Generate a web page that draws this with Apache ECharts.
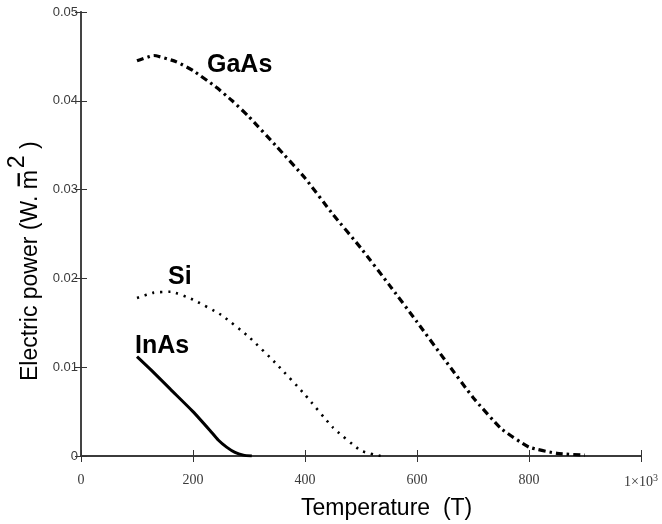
<!DOCTYPE html>
<html>
<head>
<meta charset="utf-8">
<script src="https://cdn.jsdelivr.net/npm/echarts@6/dist/echarts.min.js"></script>
<style>html,body{margin:0;padding:0;background:#fff;}#c{width:662px;height:524px;}</style>
</head>
<body>
<div id="c"></div>
<script>
// Temperature (T) and electric power (W/m^2)
const gaasT = [100,130,170,200,240,270,300,350,400,450,500,550,600,650,700,750,800,850,900];
const gaasP = [0.0445,0.0451,0.0444,0.0434,0.0416,0.0400,0.0382,0.0348,0.0313,0.0272,0.0234,0.0193,0.0151,0.0108,0.0066,0.0031,0.0010,0.0003,0.0001];
const siT = [100,130,160,200,250,300,350,400,450,500,535];
const siP = [0.0178,0.0184,0.0185,0.0176,0.0159,0.0134,0.0103,0.0069,0.0032,0.0006,0.0000];
const inasT = [100,125,160,200,230,245,260,275,290,305];
const inasP = [0.0112,0.0097,0.0075,0.0050,0.0029,0.0018,0.0010,0.0004,0.0001,0.0000];
const xTicks = [0,200,400,600,800,1000];
const yTicks = [0,0.01,0.02,0.03,0.04,0.05];
const seriesNames = ['GaAs','Si','InAs'];
const xTitle = 'Temperature  (T)';
const yTitleMain = 'Electric power (W. m';
const yTitleSup = '2';
const yTitleEnd = ' )';

const zip = (a,b) => a.map((v,i)=>[v,b[i]]);
const chart = echarts.init(document.getElementById('c'));
const serif = 'Liberation Serif';
const sans = 'Liberation Sans';
const axisCol = '#444';

// measure title pieces for the rotated y title
const ctx = document.createElement('canvas').getContext('2d');
const tFont = '23px ' + sans;
ctx.font = tFont;
const wMain = ctx.measureText(yTitleMain).width;
const wM = ctx.measureText('m').width;
const wSup = ctx.measureText(yTitleSup).width;

chart.setOption({
  animation: false,
  backgroundColor: '#fff',
  grid: {left: 81, right: 21, top: 12, bottom: 68},
  xAxis: [{
    type: 'value', min: xTicks[0], max: xTicks[xTicks.length-1], interval: 200,
    axisLine: {show: true, onZero: false, lineStyle: {color: '#222', width: 2}},
    axisTick: {show: true, inside: true, length: 6, lineStyle: {color: '#333', width: 1}},
    splitLine: {show: false},
    axisLabel: {
      margin: 17, fontFamily: serif, fontSize: 14, color: '#3a3a3a',
      formatter: v => v === 1000 ? '1×10{s|3}' : String(v),
      rich: {s: {fontSize: 10, verticalAlign: 'top', padding: [0,0,8,0], fontFamily: serif, color: '#3a3a3a'}}
    }
  },{
    type: 'value', position: 'top', min: 0, max: 1000, interval: 200,
    axisLine: {show: true, lineStyle: {color: axisCol, width: 1.5}},
    axisTick: {show: true, inside: true, length: 6, lineStyle: {color: '#333'}},
    axisLabel: {show: false}, splitLine: {show: false}
  }],
  yAxis: [{
    type: 'value', min: yTicks[0], max: yTicks[yTicks.length-1], interval: 0.01,
    axisLine: {show: true, onZero: false, lineStyle: {color: axisCol, width: 2}},
    axisTick: {show: true, inside: true, length: 6, lineStyle: {color: '#333'}},
    splitLine: {show: false},
    axisLabel: {margin: 3, fontFamily: sans, fontSize: 13, color: '#3a3a3a', verticalAlign: 'middle',
      padding: [4,0,0,0],
      formatter: v => v === 0 ? '0' : v.toFixed(2)}
  },{
    type: 'value', position: 'right', min: 0, max: 0.05, interval: 0.01,
    axisLine: {show: true, lineStyle: {color: axisCol, width: 1.5}},
    axisTick: {show: true, inside: true, length: 6, lineStyle: {color: '#333'}},
    axisLabel: {show: false}, splitLine: {show: false}
  }],
  series: [
    {name: seriesNames[0], type: 'line', data: zip(gaasT, gaasP), smooth: 0.15, showSymbol: false,
     lineStyle: {color: '#000', width: 3.2, type: [7,4,2.5,4]}},
    {name: seriesNames[1], type: 'line', data: zip(siT, siP), smooth: 0.15, showSymbol: false,
     lineStyle: {color: '#000', width: 2.6, type: [2.2,5.8]}},
    {name: seriesNames[2], type: 'line', data: zip(inasT, inasP), smooth: 0.2, showSymbol: false,
     lineStyle: {color: '#000', width: 3}}
  ],
  graphic: [
    {type: 'text', left: 207, top: 53, style: {text: seriesNames[0], font: 'bold 25px ' + sans, fill: '#000'}},
    {type: 'text', left: 168, top: 265, style: {text: seriesNames[1], font: 'bold 25px ' + sans, fill: '#000'}},
    {type: 'text', left: 135, top: 334, style: {text: seriesNames[2], font: 'bold 25px ' + sans, fill: '#000'}},
    {type: 'text', left: 301, top: 497, style: {text: xTitle, font: '23px ' + sans, fill: '#000'}},
    {type: 'group', x: 0, y: 381, rotation: Math.PI/2, children: [
      {type: 'text', x: 0, y: 19, style: {text: yTitleMain, font: tFont, fill: '#000'}},
      {type: 'rect', shape: {x: wMain - wM + 3, y: 17.5, width: wM - 6, height: 2.4}, style: {fill: '#000'}},
      {type: 'text', x: wMain + 2, y: 6, style: {text: yTitleSup, font: tFont, fill: '#000'}},
      {type: 'text', x: wMain + wSup + 2, y: 19, style: {text: yTitleEnd, font: tFont, fill: '#000'}}
    ]}
  ]
});
</script>
</body>
</html>
